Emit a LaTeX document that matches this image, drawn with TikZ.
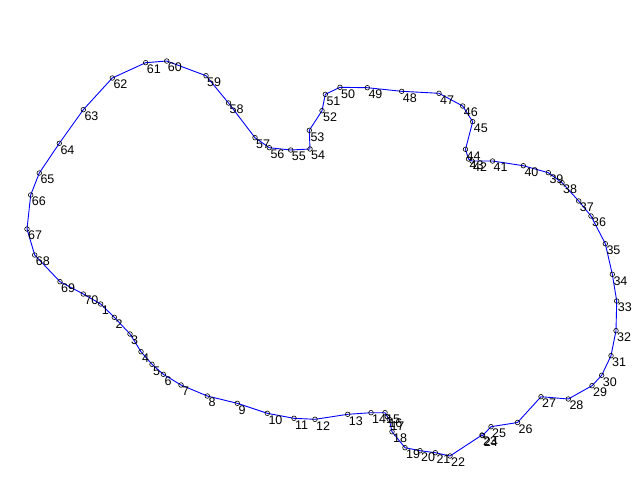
\documentclass[tikz,border=0pt]{standalone}
\usepackage{fontspec}
\setmainfont{Liberation Sans}
\begin{document}
\begin{tikzpicture}[x=1pt,y=-1pt,
  pt/.style={draw=black,circle,inner sep=0pt,minimum size=4.6pt,line width=0.6pt},
  lbl/.style={anchor=north west,inner sep=0pt,font=\fontsize{12.5}{13}\selectfont},
  outline/.style={draw=blue,line width=0.9pt}]
\useasboundingbox[fill=white] (0,0) rectangle (640,480);
\foreach \n/\x/\y in {
1/100.7/304, 2/114.3/317.3, 3/130/334, 4/141/351.7, 5/152/364.3,
6/163.3/374.3, 7/181/385, 8/207.3/396, 9/237.3/403.3, 10/267.3/413.3,
11/294/418.3, 12/315/419.3, 13/347.7/414.3, 14/371/412.7, 15/385/412.7,
16/387.3/416.7, 17/389.3/419.3, 18/392/431.7, 19/405/447.7, 20/420/450.7,
21/435.3/452.7, 22/450/456, 23/482/435, 24/482.6/435.6, 25/491/426.7,
26/517.5/422.5, 27/541/396.7, 28/568.3/399, 29/592/385.7, 30/601.7/375.3,
31/611/355.7, 32/616/330.7, 33/616.7/301, 34/612.3/274.3, 35/605.3/243.7,
36/591/216, 37/578.7/201, 38/562/182.7, 39/548.3/172.7, 40/523.3/165.7,
41/492.5/161, 42/472/161, 43/468.5/159, 44/465.5/149.3, 45/472.7/121.7,
46/462.7/106, 47/439/93.3, 48/401.7/91.3, 49/367.3/87.7, 50/340/87.3,
51/325.3/94.3, 52/322/110.7, 53/309.3/130.3, 54/310/149, 55/290.7/150,
56/269.3/147.7, 57/255/137.7, 58/228.5/103, 59/206/75.7, 60/166.7/61,
61/145.7/62.7, 62/112.3/78, 63/83.3/109.7, 64/59.3/143.3, 65/39.3/173,
66/30.7/195, 67/27/229, 68/34.7/255, 69/60/281.7, 70/83.3/294}{
  \coordinate (p\n) at (\x,\y);
}
\draw[outline] (p1) \foreach \i in {2,...,70}{ -- (p\i)} -- cycle;
\foreach \n in {1,...,70}{
  \node[pt] (c\n) at (p\n) {};
  \node[lbl] (l\n) at ([shift={(1,2)}]p\n) {\n};
}
\end{tikzpicture}
\end{document}
